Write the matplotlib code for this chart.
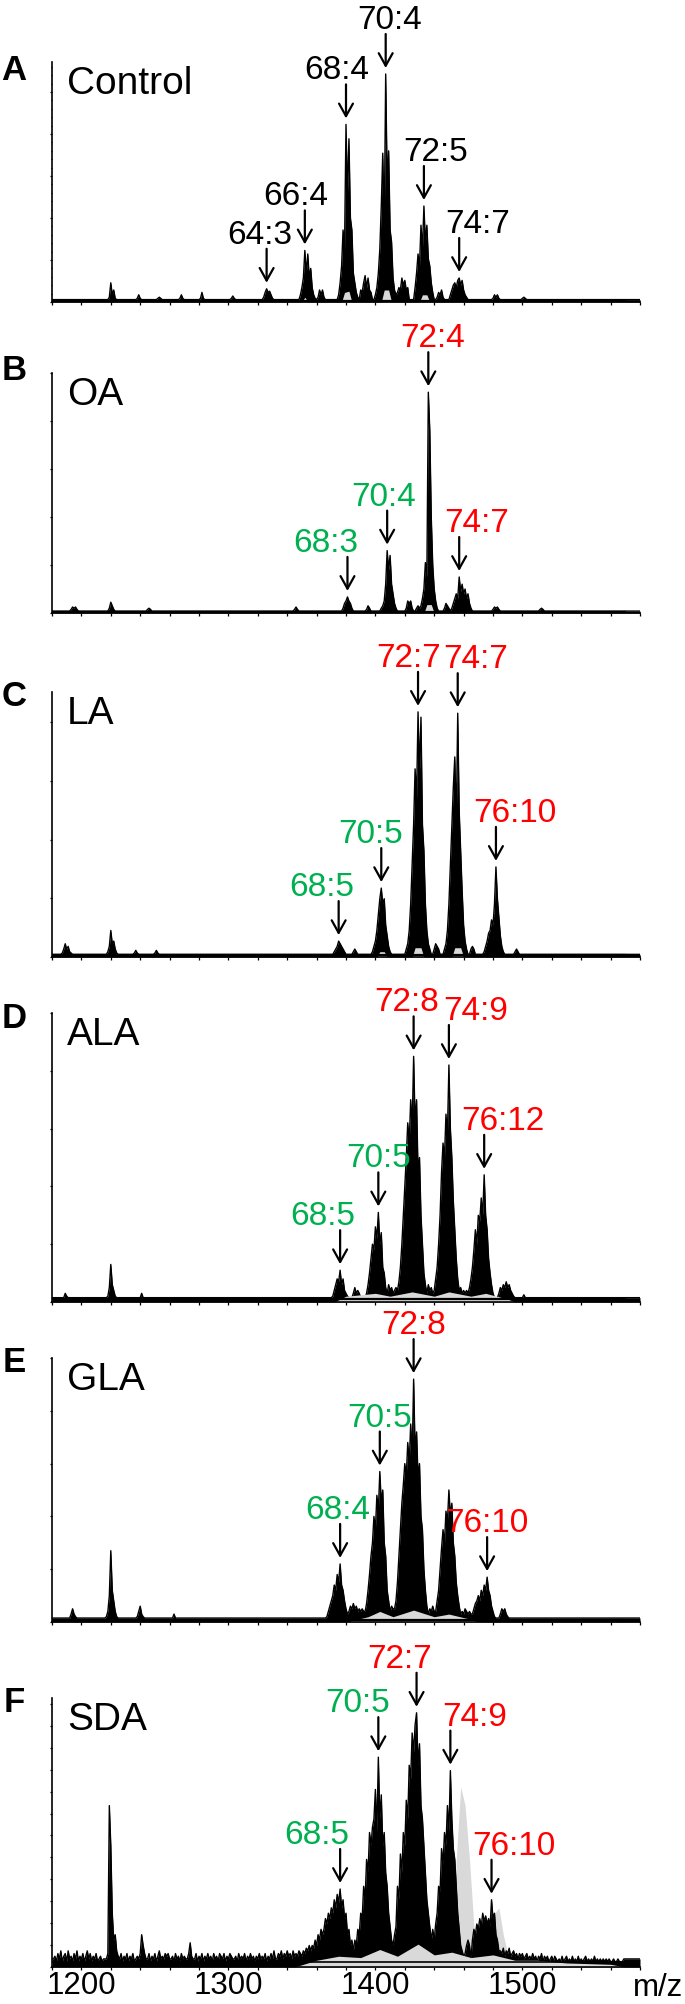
import numpy as np
import matplotlib
matplotlib.use("Agg")
import matplotlib.pyplot as plt
from matplotlib.transforms import offset_copy
from matplotlib.ticker import MultipleLocator

plt.rcParams['font.family'] = ['Liberation Sans', 'DejaVu Sans']

# --------------------------------------------------
# 1. Spectra (m/z grid of 1, relative intensity)
#    each cluster = start m/z + intensities at consecutive m/z
# --------------------------------------------------
MZ_MIN, MZ_MAX = 1180, 1580

A_base = 0.01
A_starts = [1219, 1238, 1252, 1267, 1281, 1302, 1324, 1349, 1361, 1375, 1390, 1400,
            1415, 1427, 1442, 1451, 1480, 1500]
A_heights = [
    [0.02, 0.08, 0.03, 0.05, 0.015],
    [0.015, 0.03, 0.015],
    [0.015, 0.02, 0.015],
    [0.015, 0.03, 0.015],
    [0.015, 0.04, 0.015],
    [0.015, 0.025, 0.015],
    [0.02, 0.04, 0.055, 0.04, 0.045, 0.03, 0.015],
    [0.03, 0.06, 0.1, 0.215, 0.12, 0.2, 0.1, 0.14, 0.06, 0.03, 0.015],
    [0.02, 0.05, 0.03, 0.05, 0.02],
    [0.03, 0.08, 0.15, 0.3, 0.22, 0.74, 0.45, 0.68, 0.35, 0.3, 0.12, 0.08, 0.04, 0.02],
    [0.05, 0.04, 0.08, 0.11, 0.06, 0.1, 0.05, 0.04],
    [0.03, 0.06, 0.12, 0.22, 0.4, 0.62, 0.3, 0.95, 0.5, 0.63, 0.3, 0.25, 0.1, 0.05, 0.03],
    [0.04, 0.06, 0.05, 0.1, 0.07, 0.09, 0.05, 0.06],
    [0.06, 0.12, 0.2, 0.15, 0.32, 0.22, 0.4, 0.25, 0.32, 0.18, 0.15, 0.08, 0.04],
    [0.02, 0.04, 0.03, 0.05, 0.02],
    [0.03, 0.05, 0.07, 0.08, 0.06, 0.09, 0.1, 0.07, 0.09, 0.05, 0.03, 0.02],
    [0.015, 0.03, 0.02, 0.03, 0.015],
    [0.015, 0.02, 0.015],
]
A_floor_mz = [1350, 1352, 1354, 1377, 1379, 1382, 1384, 1404, 1406, 1409, 1411,
              1430, 1432, 1435, 1437]
A_floor_int = [0, 0.02, 0, 0, 0.04, 0.045, 0, 0, 0.05, 0.05, 0, 0, 0.03, 0.03, 0]
A_names = ["64:3", "66:4", "68:4", "70:4", "72:5", "74:7"]
A_label_mz = [1326, 1352, 1380, 1407, 1433, 1457]
A_colors = ["black"] * 6

B_base = 0.008
B_starts = [1193, 1219, 1245, 1345, 1378, 1394, 1404, 1421, 1428, 1431, 1447, 1452,
            1480, 1512]
B_heights = [
    [0.015, 0.025, 0.02, 0.025, 0.015],
    [0.02, 0.045, 0.03, 0.015],
    [0.015, 0.02, 0.015],
    [0.015, 0.025, 0.015],
    [0.02, 0.04, 0.05, 0.067, 0.05, 0.04, 0.02],
    [0.015, 0.03, 0.02],
    [0.02, 0.03, 0.05, 0.12, 0.26, 0.18, 0.24, 0.12, 0.08, 0.04, 0.02],
    [0.02, 0.05, 0.04, 0.05, 0.02],
    [0.02, 0.03, 0.02],
    [0.03, 0.06, 0.1, 0.21, 0.15, 0.92, 0.76, 0.4, 0.2, 0.1, 0.05, 0.02],
    [0.02, 0.04, 0.03, 0.02],
    [0.02, 0.04, 0.06, 0.08, 0.06, 0.15, 0.09, 0.12, 0.08, 0.1, 0.06, 0.08, 0.04, 0.02],
    [0.015, 0.025, 0.02, 0.025, 0.015],
    [0.015, 0.02, 0.015],
]
B_floor_mz = [1433, 1435, 1438, 1440]
B_floor_int = [0, 0.035, 0.035, 0]
B_names = ["68:3", "70:4", "72:4", "74:7"]
B_label_mz = [1381, 1408, 1436, 1457]
B_colors = ["#00b050", "#00b050", "red", "red"]

C_base = 0.01
C_starts = [1187, 1218, 1236, 1250, 1372, 1385, 1398, 1421, 1440, 1447, 1465, 1474, 1495]
C_heights = [
    [0.015, 0.03, 0.05, 0.03, 0.04, 0.02, 0.015],
    [0.02, 0.04, 0.1, 0.05, 0.06, 0.03, 0.015],
    [0.015, 0.025, 0.015],
    [0.015, 0.025, 0.015],
    [0.02, 0.03, 0.04, 0.06, 0.05, 0.04, 0.03, 0.02],
    [0.02, 0.03, 0.02],
    [0.02, 0.04, 0.06, 0.1, 0.16, 0.22, 0.26, 0.2, 0.22, 0.12, 0.08, 0.04, 0.02],
    [0.03, 0.05, 0.1, 0.2, 0.35, 0.5, 0.71, 0.6, 0.925, 0.7, 0.905, 0.5, 0.4, 0.2, 0.1, 0.05, 0.03],
    [0.03, 0.05, 0.04, 0.03],
    [0.03, 0.05, 0.1, 0.2, 0.35, 0.5, 0.64, 0.755, 0.5, 0.92, 0.55, 0.4, 0.25, 0.12, 0.06, 0.03],
    [0.03, 0.04, 0.03],
    [0.02, 0.04, 0.06, 0.09, 0.1, 0.14, 0.12, 0.2, 0.34, 0.22, 0.15, 0.08, 0.04, 0.02],
    [0.02, 0.03, 0.02],
]
C_floor_mz = [1401, 1403, 1406, 1408, 1425, 1427, 1431, 1433, 1452, 1454, 1458, 1460]
C_floor_int = [0, 0.02, 0.02, 0, 0, 0.035, 0.035, 0, 0, 0.035, 0.035, 0]
C_names = ["68:5", "70:5", "72:7", "74:7", "76:10"]
C_label_mz = [1375, 1404, 1429, 1456, 1482]
C_colors = ["#00b050", "#00b050", "red", "red", "red"]

D_base = 0.015
D_starts = [1188, 1218, 1240, 1371, 1385, 1394, 1409, 1415, 1436, 1440, 1458, 1463,
            1484, 1500]
D_heights = [
    [0.015, 0.03, 0.02, 0.015],
    [0.02, 0.05, 0.13, 0.06, 0.04, 0.02],
    [0.015, 0.03, 0.015],
    [0.02, 0.04, 0.06, 0.08, 0.07, 0.11, 0.06, 0.08, 0.04, 0.03, 0.02],
    [0.03, 0.05, 0.03, 0.04, 0.03],
    [0.03, 0.06, 0.1, 0.15, 0.2, 0.18, 0.26, 0.22, 0.31, 0.2, 0.24, 0.12, 0.1, 0.05, 0.03],
    [0.06, 0.04, 0.05, 0.03, 0.04, 0.05],
    [0.04, 0.07, 0.12, 0.2, 0.3, 0.4, 0.5, 0.62, 0.55, 0.7, 0.6, 0.85, 0.62, 0.7, 0.45,
     0.5, 0.3, 0.2, 0.1, 0.06, 0.03],
    [0.06, 0.04, 0.05, 0.03],
    [0.04, 0.08, 0.12, 0.2, 0.3, 0.45, 0.55, 0.5, 0.65, 0.58, 0.82, 0.6, 0.5, 0.35, 0.25,
     0.15, 0.08, 0.04],
    [0.05, 0.03, 0.04, 0.03, 0.04],
    [0.03, 0.05, 0.08, 0.12, 0.18, 0.25, 0.2, 0.3, 0.28, 0.36, 0.3, 0.44, 0.3, 0.25, 0.15,
     0.1, 0.06, 0.03],
    [0.03, 0.05, 0.04, 0.06, 0.05, 0.07, 0.05, 0.06, 0.04, 0.03, 0.02],
    [0.015, 0.025, 0.015],
]
D_floor_mz = [1372, 1380, 1400, 1410, 1425, 1440, 1450, 1465, 1475, 1490, 1495]
D_floor_int = [0, 0.02, 0.03, 0.02, 0.035, 0.02, 0.035, 0.02, 0.03, 0.01, 0]
D_names = ["68:5", "70:5", "72:8", "74:9", "76:12"]
D_label_mz = [1376, 1402, 1426, 1450, 1474]
D_colors = ["#00b050", "#00b050", "red", "red", "red"]

E_base = 0.015
E_starts = [1192, 1217, 1238, 1262, 1367, 1382, 1393, 1411, 1413, 1437, 1441, 1459,
            1466, 1485]
E_heights = [
    [0.015, 0.03, 0.05, 0.03, 0.02],
    [0.02, 0.04, 0.1, 0.27, 0.12, 0.08, 0.04, 0.02],
    [0.02, 0.04, 0.06, 0.03, 0.02],
    [0.015, 0.03, 0.015],
    [0.02, 0.04, 0.06, 0.08, 0.1, 0.14, 0.12, 0.18, 0.15, 0.22, 0.14, 0.12, 0.08, 0.05, 0.03],
    [0.04, 0.06, 0.05, 0.07, 0.05, 0.06, 0.04, 0.05, 0.04, 0.05, 0.04],
    [0.04, 0.07, 0.12, 0.18, 0.25, 0.3, 0.4, 0.35, 0.48, 0.42, 0.57, 0.45, 0.5, 0.3, 0.25,
     0.12, 0.08, 0.04],
    [0.06, 0.05],
    [0.05, 0.08, 0.15, 0.25, 0.35, 0.45, 0.52, 0.6, 0.55, 0.68, 0.6, 0.75, 0.62, 0.92, 0.65,
     0.72, 0.55, 0.6, 0.4, 0.35, 0.2, 0.12, 0.06, 0.03],
    [0.05, 0.04, 0.06, 0.04],
    [0.04, 0.08, 0.12, 0.2, 0.28, 0.35, 0.3, 0.42, 0.38, 0.5, 0.4, 0.45, 0.3, 0.25, 0.15,
     0.1, 0.06, 0.03],
    [0.04, 0.03, 0.05, 0.04, 0.03, 0.04, 0.03],
    [0.03, 0.05, 0.07, 0.08, 0.1, 0.08, 0.12, 0.1, 0.14, 0.12, 0.17, 0.12, 0.1, 0.06, 0.04, 0.02],
    [0.03, 0.05, 0.04, 0.05, 0.03, 0.02],
]
E_floor_mz = [1380, 1395, 1403, 1412, 1426, 1440, 1450, 1465, 1470]
E_floor_int = [0, 0.02, 0.04, 0.02, 0.045, 0.02, 0.03, 0.01, 0]
E_names = ["68:4", "70:5", "72:8", "76:10"]
E_label_mz = [1376, 1403, 1426, 1476]
E_colors = ["#00b050", "#00b050", "red", "red"]

F_base = 0.03
F_starts = [1182, 1217, 1226, 1239, 1245, 1256, 1261, 1272, 1277, 1300, 1304, 1330,
            1333, 1350, 1365, 1385, 1389, 1412, 1414, 1438, 1442, 1459, 1466, 1485, 1525]
F_heights = [
    [0.04, 0.02, 0.05, 0.03, 0.06, 0.02, 0.04, 0.05, 0.02, 0.06, 0.03, 0.04, 0.02, 0.05,
     0.03, 0.06, 0.02, 0.04, 0.03, 0.05, 0.02, 0.04, 0.06, 0.03, 0.05, 0.02, 0.04, 0.03,
     0.05, 0.02, 0.03, 0.04, 0.02, 0.03],
    [0.03, 0.05, 0.6, 0.45, 0.2, 0.1, 0.12, 0.06, 0.04],
    [0.03, 0.05, 0.02, 0.04, 0.03, 0.05, 0.02, 0.04, 0.03, 0.05, 0.02, 0.03, 0.04],
    [0.03, 0.05, 0.12, 0.08, 0.05, 0.03],
    [0.03, 0.05, 0.02, 0.04, 0.03, 0.05, 0.02, 0.04, 0.06, 0.03, 0.04],
    [0.03, 0.05, 0.04, 0.05, 0.03],
    [0.03, 0.04, 0.02, 0.05, 0.03, 0.04, 0.02, 0.05, 0.03, 0.04, 0.03],
    [0.03, 0.05, 0.09, 0.04, 0.03],
    [0.03, 0.05, 0.02, 0.04, 0.03, 0.05, 0.02, 0.04, 0.03, 0.05, 0.03, 0.04, 0.02, 0.05,
     0.03, 0.04, 0.02, 0.05, 0.04, 0.03, 0.05, 0.02, 0.04],
    [0.03, 0.05, 0.04, 0.03],
    [0.03, 0.04, 0.02, 0.05, 0.03, 0.04, 0.03, 0.05, 0.02, 0.04, 0.03, 0.05, 0.03, 0.04,
     0.02, 0.04, 0.03, 0.05, 0.03, 0.04, 0.03, 0.05, 0.02, 0.04, 0.03, 0.05],
    [0.03, 0.06, 0.03],
    [0.03, 0.05, 0.04, 0.06, 0.03, 0.05, 0.04, 0.06, 0.04, 0.05, 0.03, 0.06, 0.04, 0.05,
     0.04, 0.06, 0.05],
    [0.04, 0.06, 0.05, 0.07, 0.06, 0.08, 0.06, 0.08, 0.07, 0.1, 0.08, 0.12, 0.1, 0.14, 0.12],
    [0.14, 0.18, 0.16, 0.2, 0.18, 0.22, 0.2, 0.25, 0.22, 0.27, 0.24, 0.29, 0.22, 0.25, 0.18,
     0.2, 0.12, 0.14, 0.08, 0.1],
    [0.06, 0.1, 0.08, 0.14],
    [0.12, 0.2, 0.18, 0.3, 0.25, 0.4, 0.35, 0.5, 0.45, 0.52, 0.55, 0.66, 0.5, 0.78, 0.55,
     0.64, 0.45, 0.5, 0.35, 0.3, 0.2, 0.15, 0.1],
    [0.08, 0.12],
    [0.15, 0.3, 0.25, 0.42, 0.35, 0.5, 0.45, 0.62, 0.55, 0.75, 0.7, 0.87, 0.8, 0.9, 0.945,
     0.75, 0.83, 0.6, 0.55, 0.45, 0.35, 0.25, 0.2, 0.15],
    [0.1, 0.14, 0.1, 0.16],
    [0.2, 0.3, 0.28, 0.44, 0.38, 0.5, 0.45, 0.6, 0.5, 0.73, 0.55, 0.44, 0.4, 0.3, 0.2, 0.14, 0.08],
    [0.06, 0.04, 0.05, 0.08, 0.1, 0.08],
    [0.1, 0.14, 0.12, 0.16, 0.14, 0.18, 0.15, 0.2, 0.17, 0.19, 0.16, 0.18, 0.15, 0.25, 0.18,
     0.2, 0.12, 0.1, 0.06],
    [0.06, 0.05, 0.07, 0.04, 0.06, 0.05, 0.07, 0.04, 0.05, 0.06, 0.04, 0.05, 0.03, 0.05,
     0.04, 0.05, 0.03, 0.04, 0.05, 0.03, 0.04, 0.03, 0.05, 0.03, 0.04, 0.02, 0.04, 0.03,
     0.05, 0.02, 0.04, 0.03, 0.04, 0.02, 0.03, 0.04, 0.02, 0.04, 0.03, 0.02],
    [0.03, 0.02, 0.04, 0.02, 0.03, 0.04, 0.02, 0.03, 0.02, 0.04, 0.02, 0.03, 0.02, 0.04,
     0.02, 0.03, 0.02, 0.03, 0.04, 0.02, 0.03, 0.02, 0.03, 0.02, 0.04, 0.02, 0.03, 0.02,
     0.03, 0.02, 0.03, 0.02, 0.03, 0.02, 0.03, 0.02, 0.02, 0.03, 0.02, 0.02, 0.03, 0.02,
     0.02, 0.02],
]
F_floor_mz = [1345, 1360, 1375, 1390, 1403, 1415, 1429, 1440, 1452, 1465, 1480,
              1495, 1510, 1530, 1560, 1570]
F_floor_int = [0, 0.025, 0.04, 0.035, 0.065, 0.04, 0.085, 0.045, 0.055, 0.035, 0.045,
               0.025, 0.025, 0.015, 0.01, 0]
F_ghost_mz = [1452, 1455, 1458, 1461, 1464, 1467, 1470, 1476, 1481, 1484, 1487, 1490, 1494]
F_ghost_int = [0, 0.4, 0.67, 0.6, 0.4, 0.15, 0.08, 0.12, 0.2, 0.22, 0.12, 0.05, 0]
F_names = ["68:5", "70:5", "72:7", "74:9", "76:10"]
F_label_mz = [1376, 1402, 1428, 1451, 1479]
F_colors = ["#00b050", "#00b050", "red", "red", "red"]

letters = ["A", "B", "C", "D", "E", "F"]
titles = ["Control", "OA", "LA", "ALA", "GLA", "SDA"]
xtick_labels = ["1200", "1300", "1400", "1500"]

# --------------------------------------------------
# 2. Layout (pixels of the 685 x 2004 canvas)
# --------------------------------------------------
W, H = 685, 2004
X0, X1 = 52, 640
tops = [62, 373, 692, 1013, 1358, 1698]
bases = [302, 613, 957, 1302, 1622, 1967]
ytick_steps = [0.175, 0.2, 0.2215, 0.2, 0.2, 0.0815]
ytick_minor = [0.035, None, None, None, None, None]
label_dx = [
    [-7, -9, -9, 4, 12, 18],
    [-22, -4, 4, 17],
    [-17, -11, -9, 18, 19],
    [-17, 0, -7, 27, 19],
    [-2, 0, 0, 0],
    [-23, -21, -17, 24, 22],
]
ARROW_LEN = 34
TIP_GAP = 6

panels = [
    (A_base, A_starts, A_heights, A_floor_mz, A_floor_int, A_names, A_label_mz, A_colors),
    (B_base, B_starts, B_heights, B_floor_mz, B_floor_int, B_names, B_label_mz, B_colors),
    (C_base, C_starts, C_heights, C_floor_mz, C_floor_int, C_names, C_label_mz, C_colors),
    (D_base, D_starts, D_heights, D_floor_mz, D_floor_int, D_names, D_label_mz, D_colors),
    (E_base, E_starts, E_heights, E_floor_mz, E_floor_int, E_names, E_label_mz, E_colors),
    (F_base, F_starts, F_heights, F_floor_mz, F_floor_int, F_names, F_label_mz, F_colors),
]

fig = plt.figure(figsize=(W / 100, H / 100), dpi=100)
GRAY = "#d9d9d9"

for i, (base, starts, heights, fl_mz, fl_int, names, lab_mz, cols) in enumerate(panels):
    top, bot = tops[i], bases[i]
    ax = fig.add_axes([X0 / W, 1 - bot / H, (X1 - X0) / W, (bot - top) / H])

    mz = np.arange(MZ_MIN, MZ_MAX + 1)
    inten = np.full(mz.size, base)
    for s, h in zip(starts, heights):
        inten[s - MZ_MIN:s - MZ_MIN + len(h)] = h

    if i == 5:
        ax.fill_between(F_ghost_mz, 0, F_ghost_int, color=GRAY, lw=0, zorder=1)
    ax.fill_between(mz, 0, inten, color="black", lw=0, zorder=2)
    ax.plot(mz, inten, color="black", lw=1.0, zorder=2)
    ax.fill_between(fl_mz, 0, fl_int, color=GRAY, lw=0, zorder=3)
    ax.plot([MZ_MIN, MZ_MAX - 10], [base * 0.6, base * 0.6], color="black",
            lw=1.6 if i < 5 else 1.2, zorder=4)

    ax.set_xlim(MZ_MIN, MZ_MAX)
    ax.set_ylim(0, 1)
    for side in ("top", "right"):
        ax.spines[side].set_visible(False)
    for side in ("left", "bottom"):
        ax.spines[side].set_linewidth(1.2)
    ax.spines["bottom"].set_zorder(5)

    ax.xaxis.set_major_locator(MultipleLocator(20))
    ax.yaxis.set_major_locator(MultipleLocator(ytick_steps[i]))
    if ytick_minor[i]:
        ax.yaxis.set_minor_locator(MultipleLocator(ytick_minor[i]))
    ax.tick_params(axis="x", direction="out", length=2.2, width=0.9, pad=1.0)
    ax.tick_params(axis="y", direction="out", length=1.6, width=0.9, labelleft=False)
    ax.tick_params(axis="y", which="minor", direction="out", length=1.0, width=0.7)

    if i == 5:
        ticks = ax.get_xticks()
        ax.set_xticklabels([str(int(t)) if str(int(t)) in xtick_labels else ""
                            for t in ticks], fontsize=22.5)
    else:
        ax.set_xticklabels([])

    # peak labels with arrows
    tip = offset_copy(ax.transData, fig=fig, x=0, y=TIP_GAP, units="dots")
    for name, m, c, dx in zip(names, lab_mz, cols, label_dx[i]):
        h = inten[m - MZ_MIN - 1:m - MZ_MIN + 2].max()
        ax.annotate("", xy=(m, h), xycoords=tip, xytext=(0, ARROW_LEN),
                    textcoords="offset pixels", annotation_clip=False,
                    arrowprops=dict(arrowstyle="->,head_length=0.45,head_width=0.25",
                                    mutation_scale=20, lw=1.6, color="black",
                                    shrinkA=0, shrinkB=0))
        ax.annotate(name, xy=(m, h), xycoords=tip, xytext=(dx, ARROW_LEN + 5),
                    textcoords="offset pixels", ha="center", va="baseline",
                    fontsize=24, color=c, annotation_clip=False)

    fig.text(14 / W, 1 - (top + (9 if i == 0 else 5 if i > 1 else -3)) / H, letters[i],
             fontsize=25, fontweight="bold", ha="center", va="center")
    fig.text(67 / W, 1 - (top + 22) / H, titles[i], fontsize=28, ha="left", va="center")

fig.text(658 / W, 1 - 1988 / H, "m/z", fontsize=22.5, ha="center", va="center")

fig.savefig("out.png", dpi=100)
